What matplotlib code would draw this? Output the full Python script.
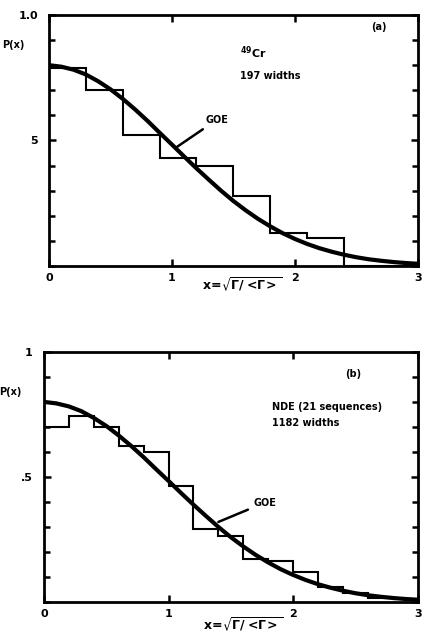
import numpy as np
import matplotlib
matplotlib.use("Agg")
import matplotlib.pyplot as plt
from matplotlib.ticker import MultipleLocator

# histogram (a): bin width 0.3
edges_a = [0.0, 0.3, 0.6, 0.9, 1.2, 1.5, 1.8, 2.1, 2.4, 2.7, 3.0]
heights_a = [0.79, 0.70, 0.52, 0.43, 0.40, 0.28, 0.13, 0.11, 0.0, 0.0]

# histogram (b): bin width 0.2
edges_b = [0.0, 0.2, 0.4, 0.6, 0.8, 1.0, 1.2, 1.4, 1.6, 1.8, 2.0,
           2.2, 2.4, 2.6, 2.8, 3.0]
heights_b = [0.70, 0.745, 0.70, 0.625, 0.60, 0.465, 0.29, 0.265, 0.17,
             0.165, 0.12, 0.06, 0.035, 0.015, 0.01]

# GOE curve
curve_x = [0.0, 0.1, 0.2, 0.3, 0.4, 0.5, 0.6, 0.7, 0.8, 0.9, 1.0, 1.1,
           1.2, 1.3, 1.4, 1.5, 1.6, 1.7, 1.8, 1.9, 2.0, 2.1, 2.2, 2.3,
           2.4, 2.5, 2.6, 2.7, 2.8, 2.9, 3.0]
curve_y = [0.80, 0.794, 0.782, 0.763, 0.736, 0.704, 0.666, 0.624, 0.579,
           0.531, 0.484, 0.436, 0.389, 0.344, 0.300, 0.259, 0.222, 0.188,
           0.158, 0.131, 0.108, 0.088, 0.071, 0.057, 0.045, 0.035, 0.027,
           0.021, 0.016, 0.012, 0.009]

xticks = [0, 1, 2, 3]

plt.rcParams['font.family'] = ['DejaVu Sans']
plt.rcParams['font.weight'] = 'bold'
plt.rcParams['mathtext.default'] = 'bf'

fig = plt.figure(figsize=(4.22, 6.34), dpi=100)
ax_a = fig.add_axes([0.116, 0.5804, 0.874, 0.396])
ax_b = fig.add_axes([0.104, 0.0505, 0.886, 0.3945])


def style(ax, ylabels):
    ax.set_xlim(0, 3)
    ax.set_ylim(0, 1)
    for s in ax.spines.values():
        s.set_linewidth(2)
    ax.set_xticks(xticks)
    ax.set_xticklabels([str(t) for t in xticks], fontsize=8, fontweight='bold')
    ax.set_yticks([0.5, 1.0])
    ax.set_yticklabels(ylabels, fontsize=8, fontweight='bold')
    ax.yaxis.set_minor_locator(MultipleLocator(0.1))
    ax.tick_params(which='both', direction='in', top=True, right=True,
                   width=1.8)
    ax.tick_params(which='major', length=5, pad=5)
    ax.tick_params(which='minor', length=4)
    ax.tick_params(axis='y', which='major', pad=8)


for ax, edges, heights in [(ax_a, edges_a, heights_a), (ax_b, edges_b, heights_b)]:
    ax.stairs(heights, edges, color='black', linewidth=1.5)
    ax.plot(curve_x, curve_y, color='black', linewidth=3, solid_capstyle='round')

style(ax_a, ['5', '1.0'])
style(ax_b, ['.5', '1'])

xlabel = r'$x\!=\!\sqrt{\Gamma/<\!\Gamma\!>}$'

# panel (a) texts
ax_a.text(-0.2, 0.88, 'P(x)', fontsize=7, fontweight='bold', ha='right', va='center')
ax_a.text(2.62, 0.94, '(a)', fontsize=7, fontweight='bold')
ax_a.text(1.55, 0.83, r'$^{49}$Cr', fontsize=8, fontweight='bold')
ax_a.text(1.55, 0.745, '197 widths', fontsize=7, fontweight='bold')
ax_a.annotate('GOE', xy=(1.04, 0.474), xytext=(1.27, 0.57), fontsize=7,
              fontweight='bold',
              arrowprops=dict(arrowstyle='-', color='black', linewidth=1.8,
                              shrinkA=2, shrinkB=0))
ax_a.text(1.57, -0.075, xlabel,
          transform=ax_a.get_xaxis_transform(), fontsize=9, ha='center', va='center')

# panel (b) texts
ax_b.text(-0.18, 0.84, 'P(x)', fontsize=7, fontweight='bold', ha='right', va='center')
ax_b.text(2.42, 0.9, '(b)', fontsize=7, fontweight='bold')
ax_b.text(1.83, 0.78, 'NDE (21 sequences)', fontsize=7, fontweight='bold', va='center')
ax_b.text(1.83, 0.716, '1182 widths', fontsize=7, fontweight='bold', va='center')
ax_b.annotate('GOE', xy=(1.40, 0.32), xytext=(1.68, 0.385), fontsize=7,
              fontweight='bold',
              arrowprops=dict(arrowstyle='-', color='black', linewidth=1.8,
                              shrinkA=2, shrinkB=0))
ax_b.text(1.6, -0.092, xlabel,
          transform=ax_b.get_xaxis_transform(), fontsize=9, ha='center', va='center')

fig.savefig('out.png', dpi=100)
